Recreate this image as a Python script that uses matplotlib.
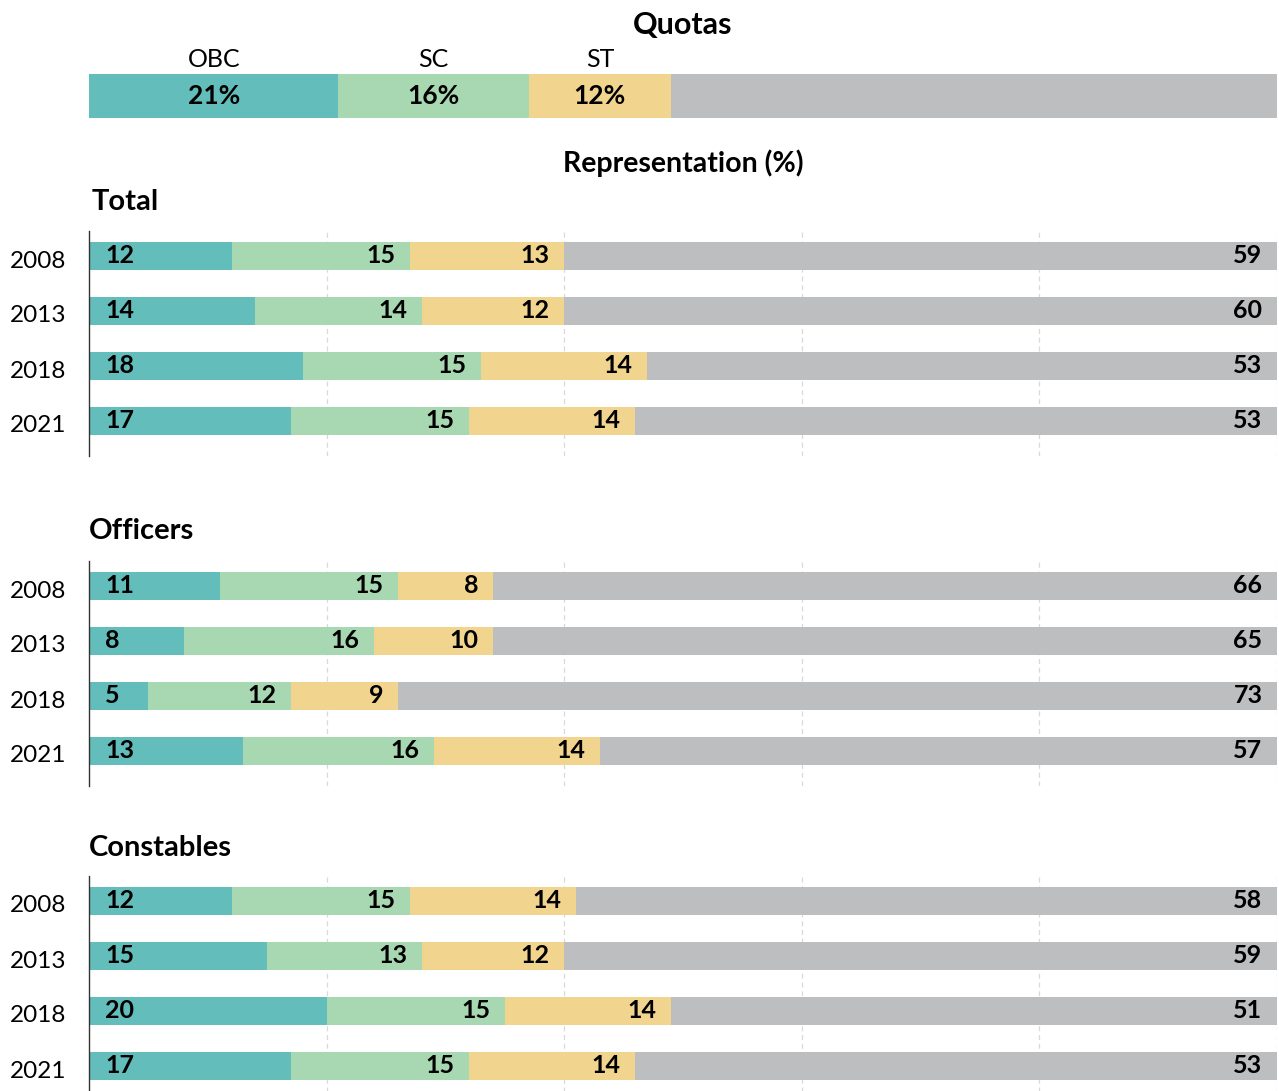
import matplotlib.pyplot as plt
from matplotlib.transforms import offset_copy

plt.rcParams['font.family'] = ['Lato', 'DejaVu Sans']

W, H = 1279, 1091

# ---------------- data ----------------
quota_names = ['OBC', 'SC', 'ST']
quota_vals = [21, 16, 12]

years = ['2008', '2013', '2018', '2021']
groups = ['Total', 'Officers', 'Constables']
obc = {'Total': [12, 14, 18, 17], 'Officers': [11, 8, 5, 13], 'Constables': [12, 15, 20, 17]}
sc = {'Total': [15, 14, 15, 15], 'Officers': [15, 16, 12, 16], 'Constables': [15, 13, 15, 15]}
st = {'Total': [13, 12, 14, 14], 'Officers': [8, 10, 9, 14], 'Constables': [14, 12, 14, 14]}
others = {'Total': [59, 60, 53, 53], 'Officers': [66, 65, 73, 57], 'Constables': [58, 59, 51, 53]}

colors = ['#63bdbb', '#a8d8b2', '#f1d48e', '#bdbec0']


def px_axes(fig, x0, y0, x1, y1):
    return fig.add_axes([x0 / W, 1 - y1 / H, (x1 - x0) / W, (y1 - y0) / H])


def ftext(fig, x, y, s, **kw):
    fig.text(x / W, 1 - y / H, s, **kw)


fig = plt.figure(figsize=(W / 100, H / 100), dpi=100)

# ---------------- quotas strip ----------------
ftext(fig, 683, 25, 'Quotas', ha='center', va='center', fontsize=22, fontweight='bold')
qax = px_axes(fig, 89, 74, 1277, 118)
left = 0
for name, v, c in zip(quota_names, quota_vals, colors):
    qax.barh(0, v, left=left, height=1, color=c, linewidth=0)
    qax.text(left + v / 2, 0, f'{v}%', ha='center', va='center', fontsize=19, fontweight='bold')
    qax.text(left + v / 2, 1.33, name, ha='center', va='center', fontsize=18,
             transform=qax.get_xaxis_transform(), clip_on=False)
    left += v
qax.barh(0, 100 - left, left=left, height=1, color=colors[3], linewidth=0)
qax.set_xlim(0, 100)
qax.set_ylim(-0.5, 0.5)
qax.axis('off')

ftext(fig, 683, 163, 'Representation (%)', ha='center', va='center', fontsize=20.5, fontweight='bold')

# ---------------- panels ----------------
panel_first_bar = {'Total': 256, 'Officers': 586, 'Constables': 901}
title_pos = {'Total': (92, 202), 'Officers': (89, 531), 'Constables': (89, 848)}
step = 55
bar_h = 28

for g in groups:
    yc = panel_first_bar[g]
    top = yc - 25
    bottom = yc + 3 * step + 35
    ax = px_axes(fig, 89, top, 1277, bottom)
    ax.set_xlim(0, 100)
    ax.set_ylim((bottom - yc) / step, (top - yc) / step)

    for gx in [20, 40, 60, 80, 100]:
        ax.axvline(gx, color='#d9d9d9', linestyle=(0, (4, 3)), linewidth=0.9, zorder=0)

    ypos = list(range(len(years)))
    rest = [100 - a - b - c for a, b, c in zip(obc[g], sc[g], st[g])]
    l1 = obc[g]
    l2 = [a + b for a, b in zip(obc[g], sc[g])]
    l3 = [a + b for a, b in zip(l2, st[g])]
    h = bar_h / step
    ax.barh(ypos, obc[g], height=h, color=colors[0], linewidth=0, zorder=2)
    ax.barh(ypos, sc[g], left=l1, height=h, color=colors[1], linewidth=0, zorder=2)
    ax.barh(ypos, st[g], left=l2, height=h, color=colors[2], linewidth=0, zorder=2)
    ax.barh(ypos, rest, left=l3, height=h, color=colors[3], linewidth=0, zorder=2)

    tr_left = offset_copy(ax.transData, fig=fig, x=11.5, y=0.5, units='points')
    tr_right = offset_copy(ax.transData, fig=fig, x=-10.5, y=0.5, units='points')
    for i, yr in enumerate(years):
        kw = dict(va='center', fontsize=18, fontweight='bold', zorder=3)
        ax.text(0, i, str(obc[g][i]), ha='left', transform=tr_left, **kw)
        ax.text(l2[i], i, str(sc[g][i]), ha='right', transform=tr_right, **kw)
        ax.text(l3[i], i, str(st[g][i]), ha='right', transform=tr_right, **kw)
        ax.text(100, i, str(others[g][i]), ha='right', transform=tr_right, **kw)
        ftext(fig, 38, yc + i * step + 5, yr, ha='center', va='center', fontsize=17.5)

    for s in ['top', 'right', 'bottom']:
        ax.spines[s].set_visible(False)
    ax.spines['left'].set_color('#333333')
    ax.spines['left'].set_linewidth(1)
    ax.set_xticks([])
    ax.set_yticks([])

    tx, ty = title_pos[g]
    ftext(fig, tx, ty, g, ha='left', va='center', fontsize=21, fontweight='bold')

fig.savefig('out.png', dpi=100)
